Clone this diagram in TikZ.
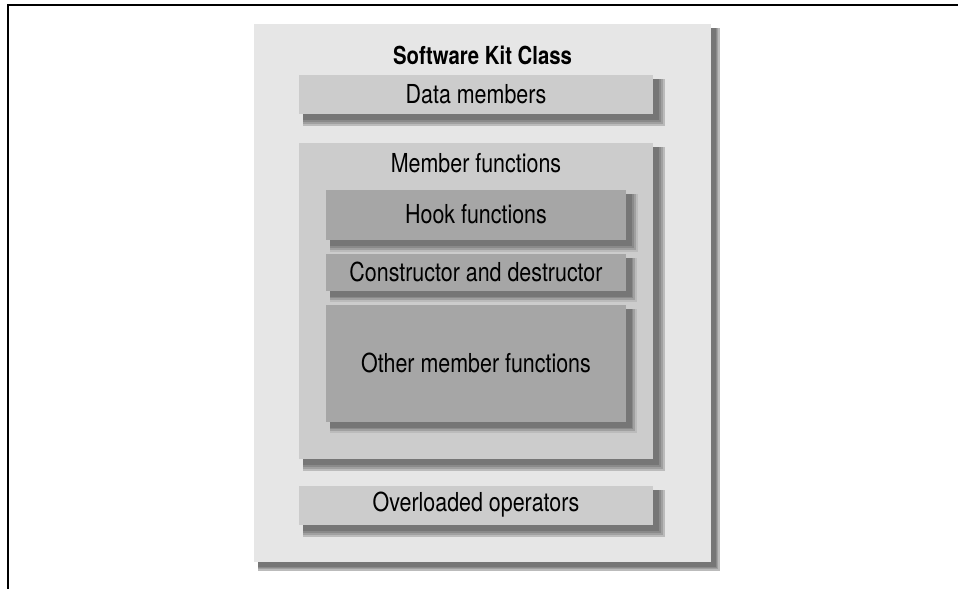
\documentclass[tikz,border=0pt]{standalone}
\usepackage{fontspec}
\setmainfont{TeX Gyre Heros}[FakeStretch=0.82]
\usetikzlibrary{calc}

\definecolor{kitpage}{HTML}{E6E6E6}
\definecolor{kitmid}{HTML}{CCCCCC}
\definecolor{kitdark}{HTML}{A6A6A6}
\definecolor{shadeA}{HTML}{BBBBBB}
\definecolor{shadeB}{HTML}{A0A0A0}
\definecolor{shadeC}{HTML}{8A8A8A}
\definecolor{shadeD}{HTML}{767676}

% stepped drop shadow behind a box: corners and reach
\newcommand{\kitshadow}[3]{%
  \foreach \s/\c in {1/shadeA,0.8/shadeB,0.65/shadeC,0.5/shadeD}
    \fill[\c] ($(#1)+(4,4)$) rectangle ($(#2)+(\s*#3,\s*#3)$);}

\tikzset{
  kittext/.style={font=\fontsize{19.6pt}{23pt}\selectfont, inner sep=0pt,
    text height=14pt, text depth=0pt},
  kittitle/.style={kittext, font=\fontsize{18.6pt}{22pt}\selectfont\bfseries}
}

\begin{document}
\begin{tikzpicture}[x=0.75pt, y=-0.75pt]
    \useasboundingbox (0,0) rectangle (958,589);
    \draw[line width=1.5pt] (958,5) -- (8,5) -- (8,589);

    % class
    \kitshadow{254,24}{711,562}{9}
    \fill[kitpage] (254,24) rectangle (711,562);
    \node[kittitle] (title) at (482.5,55) {Software Kit Class};

    % data
    \kitshadow{299,75}{653,114}{12}
    \fill[kitmid] (299,75) rectangle (653,114);
    \node[kittext] (data) at (476,94.5) {Data members};

    % functions
    \kitshadow{299,143}{653,459}{12}
    \fill[kitmid] (299,143) rectangle (653,459);
    \node[kittext] (funcs) at (476,163.5) {Member functions};

    \kitshadow{326,190}{626,240}{12}
    \fill[kitdark] (326,190) rectangle (626,240);
    \node[kittext] (hook) at (476,214.5) {Hook functions};

    \kitshadow{326,254}{626,291}{11}
    \fill[kitdark] (326,254) rectangle (626,291);
    \node[kittext] (ctor) at (476,272.5) {Constructor and destructor};

    \kitshadow{326,305}{626,422}{11}
    \fill[kitdark] (326,305) rectangle (626,422);
    \node[kittext] (other) at (476,363.5) {Other member functions};

    % operators
    \kitshadow{299,486}{653,525}{12}
    \fill[kitmid] (299,486) rectangle (653,525);
    \node[kittext] (ops) at (476,502) {Overloaded operators};
\end{tikzpicture}
\end{document}
